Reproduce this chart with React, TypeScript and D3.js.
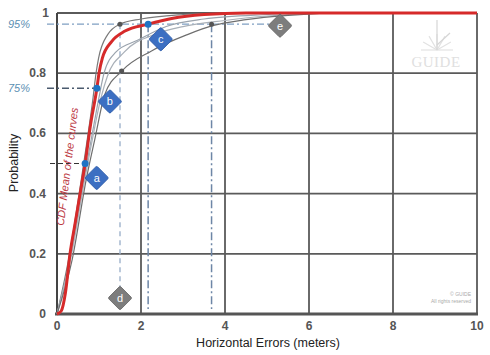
import React from 'react';
import * as d3 from 'd3';

// chart values
const xTicks = [0, 2, 4, 6, 8, 10];
const yTicks = [0, 0.2, 0.4, 0.6, 0.8, 1];

const meanCurve: [number, number][] = [
	[0, 0], [0.1, 0.01], [0.2, 0.07], [0.31, 0.2], [0.43, 0.3], [0.55, 0.4], [0.67, 0.5],
	[0.8, 0.63], [0.95, 0.75], [1.0, 0.8], [1.08, 0.85], [1.3, 0.905], [1.62, 0.94],
	[2.17, 0.963], [2.73, 0.982], [3.5, 0.995], [4.5, 1], [10, 1],
];

const grayCurves: [number, number][][] = [
	[[0, 0], [0.3, 0.2], [0.55, 0.42], [0.7, 0.56], [0.86, 0.72], [0.93, 0.8], [0.99, 0.85], [1.21, 0.929], [1.5, 0.963], [2, 0.98], [3, 0.995], [4, 1], [10, 1]],
	[[0, 0], [0.32, 0.19], [0.6, 0.42], [0.75, 0.53], [1.0, 0.72], [1.12, 0.8], [1.4, 0.87], [1.93, 0.91], [2.6, 0.955], [3.5, 0.98], [5, 0.995], [6, 1], [10, 1]],
	[[0, 0], [0.35, 0.2], [0.65, 0.44], [0.8, 0.55], [1.05, 0.72], [1.2, 0.79], [1.6, 0.87], [2.33, 0.929], [3, 0.955], [4, 0.975], [5, 0.99], [6, 0.998], [7, 1], [10, 1]],
	[[0, 0], [0.36, 0.18], [0.7, 0.45], [0.9, 0.58], [1.14, 0.73], [1.54, 0.807], [2.25, 0.874], [3.12, 0.929], [3.68, 0.957], [4.5, 0.978], [5.5, 0.992], [7, 1], [10, 1]],
];
const grayColors = ['#7a7a7a', '#9aa3ad', '#a9b0b8', '#6e6e6e'];

// percentile readings on the mean curve (a, b, c)
const meanPoints: [number, number][] = [[0.67, 0.5], [0.95, 0.75], [2.17, 0.963]];
// curve readings at 95% and 80% (small dark points)
const grayPoints: [number, number][] = [[1.5, 0.963], [3.68, 0.963], [1.54, 0.807]];

const levelLabels = [
	{ p: 0.963, text: '95%' },
	{ p: 0.75, text: '75%' },
];

const markers = [
	{ id: 'a', x: 0.945, p: 0.452, blue: true },
	{ id: 'b', x: 1.26, p: 0.706, blue: true },
	{ id: 'c', x: 2.47, p: 0.913, blue: true },
	{ id: 'd', x: 1.5, p: 0.053, blue: false },
	{ id: 'e', x: 5.31, p: 0.958, blue: false },
];

const W = 490;
const H = 355;

export default function App() {
	const x = d3.scaleLinear().domain([0, 10]).range([57, 477]);
	const y = d3.scaleLinear().domain([0, 1]).range([314, 13]);
	const line = d3.line<[number, number]>().x(d => x(d[0])).y(d => y(d[1])).curve(d3.curveMonotoneX);
	const fmt = (v: number) => (v === 0 || v === 1 ? String(v) : v.toFixed(1));
	const font = '"Liberation Sans", Arial, sans-serif';

	const p95 = levelLabels[0].p;
	const p75 = levelLabels[1].p;

	return (
		<svg width={W} height={H} style={{ position: 'absolute', left: 0, top: 0, background: '#fff' }} fontFamily={font}>
			{/* watermark */}
			<g fill="none" stroke="#e2e2e2" strokeWidth={1.2}>
				{d3.range(0, 7).map(i => {
					const a = Math.PI + (i * Math.PI) / 6;
					return <line key={i} x1={437} y1={50} x2={437 + Math.cos(a) * 16} y2={50 + Math.sin(a) * 16} />;
				})}
				<line x1={437} y1={20} x2={437} y2={50} stroke="#d6d6d6" />
				<line x1={437} y1={45} x2={450} y2={33} stroke="#d6d6d6" />
			</g>
			<text x={436} y={67} textAnchor="middle" fontFamily='"Liberation Serif", serif' fontSize={15} fill="#e0e0e0" letterSpacing={0.5}>GUIDE</text>
			<text x={471} y={296} textAnchor="end" fontSize={5} fill="#aaa">© GUIDE</text>
			<text x={471} y={303} textAnchor="end" fontSize={5} fill="#aaa">All rights reserved</text>

			{/* grid */}
			<g stroke="#5a5a5a" strokeWidth={1.8}>
				{xTicks.map(t => <line key={'gx' + t} x1={x(t)} x2={x(t)} y1={y(1)} y2={y(0)} />)}
				{yTicks.map(t => <line key={'gy' + t} x1={x(0)} x2={x(10)} y1={y(t)} y2={y(t)} />)}
			</g>
			<line x1={x(0) - 2} x2={x(10) + 1} y1={y(0)} y2={y(0)} stroke="#555" strokeWidth={3} />
			<line x1={x(0)} x2={x(0)} y1={y(1)} y2={y(0)} stroke="#444" strokeWidth={2} />

			{/* guide lines */}
			<g fill="none">
				<line x1={47} x2={x(markers[4].x) - 10} y1={y(p95)} y2={y(p95)} stroke="#7f9fc2" strokeWidth={1.4} strokeDasharray="7 3 2 3" />
				<line x1={47} x2={x(meanPoints[1][0])} y1={y(p75)} y2={y(p75)} stroke="#4a5a6e" strokeWidth={1.3} strokeDasharray="7 3 2 3" />
				<line x1={50} x2={x(meanPoints[0][0])} y1={y(0.5)} y2={y(0.5)} stroke="#333" strokeWidth={1.2} strokeDasharray="5 3" />
				<line x1={x(grayPoints[0][0])} x2={x(grayPoints[0][0])} y1={y(p95)} y2={y(markers[3].p) - 11} stroke="#9fb3cc" strokeWidth={1.4} strokeDasharray="5 4" />
				<line x1={x(meanPoints[2][0])} x2={x(meanPoints[2][0])} y1={y(p95)} y2={y(0) - 5} stroke="#6d86a6" strokeWidth={1.5} strokeDasharray="8 3 2 3" />
				<line x1={x(grayPoints[1][0])} x2={x(grayPoints[1][0])} y1={y(p95)} y2={y(0) - 5} stroke="#6d86a6" strokeWidth={1.5} strokeDasharray="8 3 2 3" />
			</g>

			{/* curves */}
			{grayCurves.map((c, i) => (
				<path key={'c' + i} d={line(c) || ''} fill="none" stroke={grayColors[i]} strokeWidth={1.2} />
			))}
			<path d={line(meanCurve) || ''} fill="none" stroke="#d62a2a" strokeWidth={3} />

			{grayPoints.map((p, i) => (
				<circle key={'gp' + i} cx={x(p[0])} cy={y(p[1])} r={2.5} fill="#555" />
			))}
			{meanPoints.map((p, i) => (
				<circle key={'mp' + i} cx={x(p[0])} cy={y(p[1])} r={3.5} fill="#1f74c4" />
			))}

			{/* markers */}
			{markers.map(m => (
				<g key={m.id} transform={`translate(${x(m.x)},${y(m.p)})`}>
					<rect x={-8.5} y={-8.5} width={17} height={17} rx={1.5} transform="rotate(45)"
						fill={m.blue ? '#3c6fc2' : '#7d7d7d'} stroke={m.blue ? '#2c5aa6' : '#666'} strokeWidth={0.8} />
					<text y={4} textAnchor="middle" fontSize={11} fill="#fff">{m.id}</text>
				</g>
			))}

			{/* curve label */}
			<text transform={`translate(71,167) rotate(-83)`} textAnchor="middle" fontSize={11} fontStyle="italic" fill="#bc3a44">CDF Mean of the curves</text>

			{/* level labels */}
			{levelLabels.map(l => (
				<text key={l.text} x={30} y={y(l.p) + 4} textAnchor="end" fontSize={11} fontStyle="italic" fill="#5b8fb3">{l.text}</text>
			))}

			{/* tick labels */}
			{yTicks.map(t => (
				<text key={'ty' + t} x={t === 1 ? 49 : 46} y={y(t) + 4} textAnchor="end" fontSize={12} fontWeight="bold" fill="#555">{fmt(t)}</text>
			))}
			{xTicks.map(t => (
				<text key={'tx' + t} x={x(t)} y={330} textAnchor="middle" fontSize={12} fontWeight="bold" fill="#555">{t}</text>
			))}

			{/* axis titles */}
			<text transform={`translate(18,163) rotate(-90)`} textAnchor="middle" fontSize={12.5} fill="#222">Probability</text>
			<text x={268} y={347} textAnchor="middle" fontSize={12.5} fill="#222">Horizontal Errors (meters)</text>
		</svg>
	);
}
